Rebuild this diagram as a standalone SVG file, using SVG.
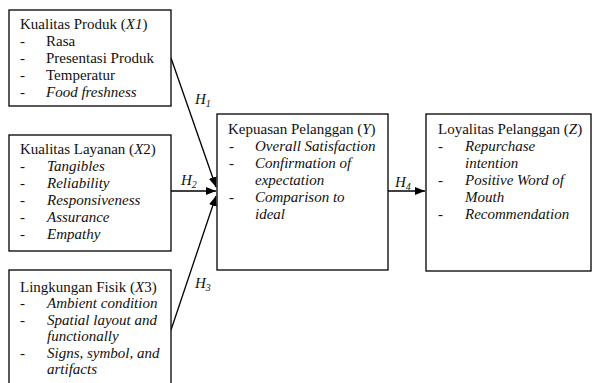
<svg xmlns="http://www.w3.org/2000/svg" width="592" height="383" viewBox="0 0 592 383">
<style>
.box{fill:#fff;stroke:#000;stroke-width:1.3}
text{font-family:'Liberation Serif','Times New Roman','DejaVu Serif',serif;font-size:15px;fill:#111}
.i{font-style:italic}
.sub{font-size:10px}
.con{stroke:#000;stroke-width:1.3;fill:none}
</style>
<defs>
<marker id="ah" markerWidth="10" markerHeight="8" refX="10" refY="4" orient="auto" markerUnits="userSpaceOnUse">
<path d="M0,0 L10,4 L0,8 Z" fill="#000"/>
</marker>
</defs>
<rect x="0" y="0" width="592" height="383" fill="#fff"/>
<g id="connectors">
<line class="con" x1="171" y1="58" x2="216" y2="187" marker-end="url(#ah)"/>
<line class="con" x1="171" y1="191" x2="216" y2="191" marker-end="url(#ah)"/>
<line class="con" x1="171" y1="330" x2="216" y2="196" marker-end="url(#ah)"/>
<line class="con" x1="388" y1="191" x2="425" y2="191" marker-end="url(#ah)"/>
</g>
<g id="labels" font-family="Liberation Serif, serif">
<text class="i" x="195" y="104">H<tspan class="sub" dy="3">1</tspan></text>
<text class="i" x="181" y="185">H<tspan class="sub" dy="3">2</tspan></text>
<text class="i" x="195" y="288">H<tspan class="sub" dy="3">3</tspan></text>
<text class="i" x="395" y="187">H<tspan class="sub" dy="3">4</tspan></text>
</g>
<g id="x1" font-family="Liberation Serif, serif">
<rect class="box" x="9" y="10" width="162" height="96"/>
<text x="20" y="29">Kualitas Produk (<tspan class="i">X1</tspan>)</text>
<text x="20" y="46">-</text><text x="46" y="46">Rasa</text>
<text x="20" y="63">-</text><text x="46" y="63">Presentasi Produk</text>
<text x="20" y="80">-</text><text x="46" y="80">Temperatur</text>
<text x="20" y="97">-</text><text class="i" x="46" y="97">Food freshness</text>
</g>
<g id="x2" font-family="Liberation Serif, serif">
<rect class="box" x="9" y="135" width="162" height="116"/>
<text x="20" y="154">Kualitas Layanan (<tspan class="i">X</tspan>2)</text>
<text x="20" y="171">-</text><text class="i" x="47" y="171">Tangibles</text>
<text x="20" y="188">-</text><text class="i" x="47" y="188">Reliability</text>
<text x="20" y="205">-</text><text class="i" x="47" y="205">Responsiveness</text>
<text x="20" y="222">-</text><text class="i" x="47" y="222">Assurance</text>
<text x="20" y="239">-</text><text class="i" x="47" y="239">Empathy</text>
</g>
<g id="x3" font-family="Liberation Serif, serif">
<rect class="box" x="9" y="270" width="162" height="130"/>
<text x="20" y="292">Lingkungan Fisik (<tspan class="i">X</tspan>3)</text>
<text x="20" y="308">-</text><text class="i" x="47" y="308">Ambient condition</text>
<text x="20" y="325">-</text><text class="i" x="47" y="325">Spatial layout and</text>
<text class="i" x="47" y="341">functionally</text>
<text x="20" y="358">-</text><text class="i" x="47" y="358">Signs, symbol, and</text>
<text class="i" x="47" y="374">artifacts</text>
</g>
<g id="y" font-family="Liberation Serif, serif">
<rect class="box" x="217" y="114" width="171" height="156"/>
<text x="228" y="134">Kepuasan Pelanggan (<tspan class="i">Y</tspan>)</text>
<text x="229" y="151">-</text><text class="i" x="255" y="151">Overall Satisfaction</text>
<text x="229" y="168">-</text><text class="i" x="255" y="168">Confirmation of</text>
<text class="i" x="255" y="185">expectation</text>
<text x="229" y="202">-</text><text class="i" x="255" y="202">Comparison to</text>
<text class="i" x="255" y="219">ideal</text>
</g>
<g id="z" font-family="Liberation Serif, serif">
<rect class="box" x="426" y="114" width="165" height="157"/>
<text x="438" y="134">Loyalitas Pelanggan (<tspan class="i">Z</tspan>)</text>
<text x="438" y="151">-</text><text class="i" x="465" y="151">Repurchase</text>
<text class="i" x="465" y="168">intention</text>
<text x="438" y="185">-</text><text class="i" x="465" y="185">Positive Word of</text>
<text class="i" x="465" y="202">Mouth</text>
<text x="438" y="219">-</text><text class="i" x="465" y="219">Recommendation</text>
</g>
</svg>
